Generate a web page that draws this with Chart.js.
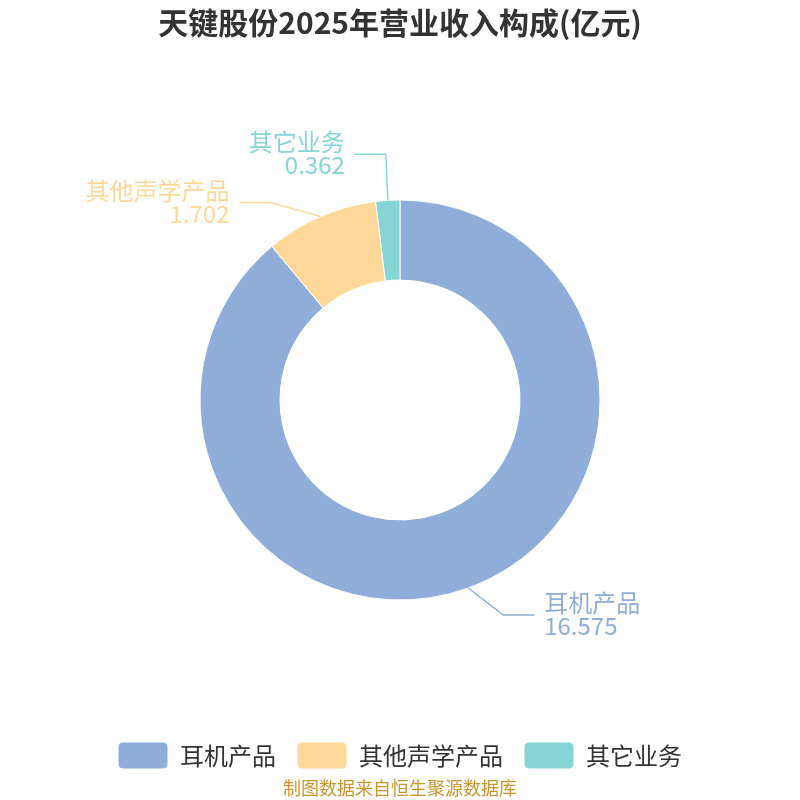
<!DOCTYPE html>
<html>
<head>
<meta charset="utf-8">
<script src="https://cdn.jsdelivr.net/npm/chart.js@4/dist/chart.umd.min.js"></script>
<style>
  html, body { margin: 0; padding: 0; background: #fff; }
  #wrap { width: 800px; height: 800px; }
</style>
</head>
<body>
<div id="wrap"><canvas id="revenueChart" width="800" height="800"></canvas></div>
<script>
const categories = ['耳机产品', '其他声学产品', '其它业务'];
const revenue = [16.575, 1.702, 0.362];
const valueLabels = ['16.575', '1.702', '0.362'];

const colors = ['#8fadd9', '#ffd899', '#87d4d6'];
// leader line elbow offset from the slice edge, per slice
const elbowOffsets = [[35, 27], [-50, -14], [-2, -46]];

Chart.defaults.font.family = '"Noto Sans CJK SC", "Noto Sans", sans-serif';

// draws the outside labels with their leader lines
const outsideLabels = {
    id: 'outsideLabels',
    afterDatasetsDraw(chart) {
        const ctx = chart.ctx;
        const meta = chart.getDatasetMeta(0);
        meta.data.forEach((arc, i) => {
            const p = arc.getProps(['x', 'y', 'startAngle', 'endAngle', 'outerRadius'], true);
            const mid = (p.startAngle + p.endAngle) / 2;
            const sx = p.x + Math.cos(mid) * p.outerRadius;
            const sy = p.y + Math.sin(mid) * p.outerRadius;
            const ex = sx + elbowOffsets[i][0];
            const ey = sy + elbowOffsets[i][1];
            const right = Math.cos(mid) >= 0;
            const lx = ex + (right ? 31 : -31);

            ctx.save();
            ctx.strokeStyle = colors[i];
            ctx.lineWidth = 1.5;
            ctx.beginPath();
            ctx.moveTo(sx, sy);
            ctx.lineTo(ex, ey);
            ctx.lineTo(lx, ey);
            ctx.stroke();

            ctx.fillStyle = colors[i];
            ctx.font = '24px "Noto Sans CJK SC", sans-serif';
            ctx.textAlign = right ? 'left' : 'right';
            ctx.textBaseline = 'middle';
            const tx = lx + (right ? 10 : -10);
            ctx.fillText(categories[i], tx, ey - 12);
            ctx.fillText(valueLabels[i], tx, ey + 11);
            ctx.restore();
        });
    }
};

const data = {
    labels: categories,
    datasets: [{
        data: revenue,
        backgroundColor: colors,
        borderColor: '#ffffff',
        borderWidth: 1
    }]
};

const options = {
    responsive: false,
    animation: false,
    radius: 200,
    cutout: '60%',
    layout: { padding: 0 },
    plugins: {
        title: {
            display: true,
            text: '天键股份2025年营业收入构成(亿元)',
            color: '#333333',
            font: { size: 30, weight: 'bold', lineHeight: 1.2 },
            padding: { top: 5, bottom: 38 }
        },
        legend: {
            position: 'bottom',
            labels: {
                boxWidth: 50,
                boxHeight: 27,
                padding: 21,
                color: '#333333',
                useBorderRadius: true,
                borderRadius: 5,
                font: { size: 24 }
            }
        },
        subtitle: {
            display: true,
            position: 'bottom',
            text: '制图数据来自恒生聚源数据库',
            color: '#c8962d',
            font: { size: 18, lineHeight: 1 },
            padding: { top: 0, bottom: 3 }
        },
        tooltip: { enabled: false }
    }
};

const ctx = document.getElementById('revenueChart');
const revenueChart = new Chart(ctx, {
    type: 'doughnut',
    data: data,
    options: options,
    plugins: [outsideLabels]
});
</script>
</body>
</html>
